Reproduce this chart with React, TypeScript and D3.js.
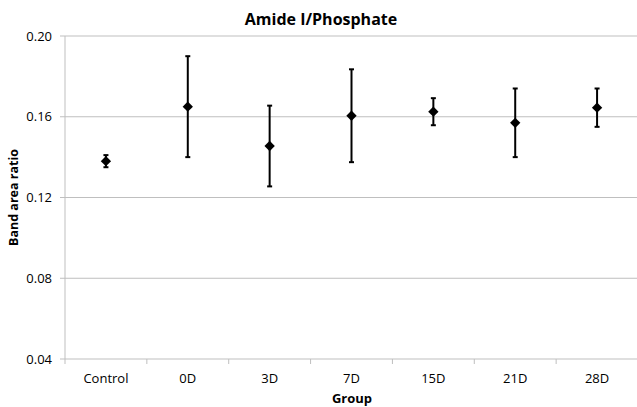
import React from "react";
import * as d3 from "d3";

const categories = ["Control", "0D", "3D", "7D", "15D", "21D", "28D"];
const means = [0.138, 0.165, 0.1455, 0.1605, 0.1625, 0.157, 0.1645];
const errors = [0.003, 0.025, 0.02, 0.023, 0.0067, 0.017, 0.0095];
const yTicks = [0.04, 0.08, 0.12, 0.16, 0.2];

const W = 637, H = 407;
const left = 65, right = 638, top = 36, bottom = 359;
const font = "'Open Sans', 'Liberation Sans', sans-serif";

export default function App() {
  const x = d3.scaleBand<string>().domain(categories).range([left, right]).padding(0);
  const y = d3.scaleLinear().domain([0.04, 0.2]).range([bottom, top]);
  const diamond = d3.symbol().type(d3.symbolDiamond2).size(68)();
  const boundaries = categories.map((c) => x(c)!).concat([right]);
  return (
    <svg width={W} height={H} style={{ position: "absolute", left: 0, top: 0, background: "#fff" }}>
      <text x={321} y={25} textAnchor="middle" fontFamily={font} fontWeight="bold" fontSize={16}>
        Amide I/Phosphate
      </text>
      {yTicks.map((t) => (
        <g key={t}>
          <line x1={left} x2={right} y1={y(t)} y2={y(t)} stroke="#bfbfbf" strokeWidth={1} />
          <line x1={left - 5} x2={left} y1={y(t)} y2={y(t)} stroke="#bfbfbf" strokeWidth={1} />
          <text x={52} y={y(t) + 4.5} textAnchor="end" fontFamily={font} fontSize={13} fill="#000">
            {t.toFixed(2)}
          </text>
        </g>
      ))}
      <line x1={left} x2={left} y1={top} y2={bottom} stroke="#bfbfbf" strokeWidth={1} />
      {boundaries.map((b, i) => (
        <line key={i} x1={b} x2={b} y1={bottom} y2={bottom + 5} stroke="#bfbfbf" strokeWidth={1} />
      ))}
      {categories.map((c) => (
        <text key={c} x={x(c)! + x.bandwidth() / 2} y={383} textAnchor="middle" fontFamily={font} fontSize={13}>
          {c}
        </text>
      ))}
      <text x={352} y={403} textAnchor="middle" fontFamily={font} fontWeight="bold" fontSize={13}>
        Group
      </text>
      <text
        transform={`translate(18, ${(top + bottom) / 2}) rotate(-90)`}
        textAnchor="middle"
        fontFamily={font}
        fontWeight="bold"
        fontSize={12.5}
      >
        Band area ratio
      </text>
      {categories.map((c, i) => {
        const cx = x(c)! + x.bandwidth() / 2;
        const y1 = y(means[i] + errors[i]);
        const y2 = y(means[i] - errors[i]);
        return (
          <g key={c}>
            <line x1={cx} x2={cx} y1={y1} y2={y2} stroke="#000" strokeWidth={2} />
            <line x1={cx - 2.5} x2={cx + 2.5} y1={y1} y2={y1} stroke="#000" strokeWidth={2} />
            <line x1={cx - 2.5} x2={cx + 2.5} y1={y2} y2={y2} stroke="#000" strokeWidth={2} />
            <path d={diamond!} transform={`translate(${cx},${y(means[i])})`} fill="#000" />
          </g>
        );
      })}
    </svg>
  );
}
